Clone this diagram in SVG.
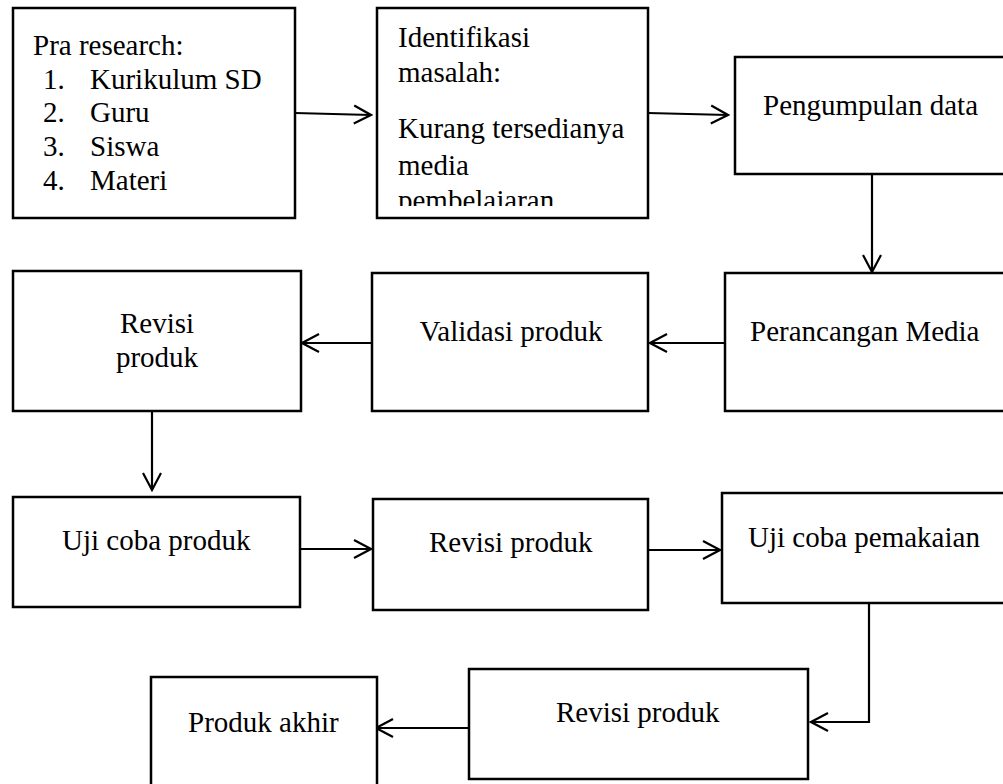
<svg xmlns="http://www.w3.org/2000/svg" width="1003" height="784" viewBox="0 0 1003 784">
<style>
.box{fill:#fff;stroke:#000;stroke-width:2.5}
.t{font-family:"Liberation Serif","Times New Roman",serif;font-size:29px;fill:#000}
.c{text-anchor:middle}
.ln{fill:none;stroke:#000;stroke-width:2.2;marker-end:url(#ah)}
</style>
<defs>
<marker id="ah" markerUnits="userSpaceOnUse" viewBox="-20 -12 22 24" markerWidth="22" markerHeight="24" refX="0" refY="0" orient="auto">
<path d="M-17,-9 L0,0 L-17,9" fill="none" stroke="#000" stroke-width="2.2"/>
</marker>
<clipPath id="clip2"><rect x="377" y="8" width="271" height="198"/></clipPath>
</defs>
<rect width="1003" height="784" fill="#fff"/>
<g id="connectors">
<path class="ln" d="M295,113 L371,115"/>
<path class="ln" d="M648,113 L728,115"/>
<path class="ln" d="M872,174 L872,272"/>
<path class="ln" d="M724,343 L650,343"/>
<path class="ln" d="M372,343 L302,343"/>
<path class="ln" d="M152,411 L152,490"/>
<path class="ln" d="M300,549 L371,549"/>
<path class="ln" d="M648,550 L720,550"/>
<path class="ln" d="M869,603 L869,722 L811,722"/>
<path class="ln" d="M469,728 L376,728"/>
</g>
<g id="n1">
<rect class="box" x="13" y="8" width="282" height="210"/>
<text class="t" x="33" y="55">Pra research:</text>
<text class="t" x="43" y="89">1.</text><text class="t" x="90" y="89">Kurikulum SD</text>
<text class="t" x="43" y="122">2.</text><text class="t" x="90" y="122">Guru</text>
<text class="t" x="43" y="156">3.</text><text class="t" x="90" y="156">Siswa</text>
<text class="t" x="43" y="190">4.</text><text class="t" x="90" y="190">Materi</text>
</g>
<g id="n2">
<rect class="box" x="377" y="8" width="271" height="210"/>
<g clip-path="url(#clip2)">
<text class="t" x="398" y="47">Identifikasi</text>
<text class="t" x="398" y="82">masalah:</text>
<text class="t" x="398" y="138">Kurang tersedianya</text>
<text class="t" x="398" y="175">media</text>
<text class="t" x="398" y="210">pembelajaran</text>
</g>
</g>
<g id="n3">
<rect class="box" x="735" y="57" width="280" height="117"/>
<text class="t" x="763" y="115">Pengumpulan data</text>
</g>
<g id="n4">
<rect class="box" x="725" y="273" width="290" height="138"/>
<text class="t" x="750" y="341">Perancangan Media</text>
</g>
<g id="n5">
<rect class="box" x="372" y="273" width="276" height="138"/>
<text class="t c" x="511" y="341">Validasi produk</text>
</g>
<g id="n6">
<rect class="box" x="13" y="271" width="288" height="140"/>
<text class="t c" x="157" y="333">Revisi</text>
<text class="t c" x="157" y="367">produk</text>
</g>
<g id="n7">
<rect class="box" x="13" y="497" width="287" height="110"/>
<text class="t" x="62" y="550">Uji coba produk</text>
</g>
<g id="n8">
<rect class="box" x="373" y="499" width="275" height="111"/>
<text class="t" x="429" y="552">Revisi produk</text>
</g>
<g id="n9">
<rect class="box" x="722" y="493" width="293" height="110"/>
<text class="t" x="748" y="547">Uji coba pemakaian</text>
</g>
<g id="n10">
<rect class="box" x="469" y="669" width="339" height="110"/>
<text class="t" x="556" y="722">Revisi produk</text>
</g>
<g id="n11">
<rect class="box" x="151" y="677" width="226" height="120"/>
<text class="t" x="188" y="732">Produk akhir</text>
</g>
</svg>
